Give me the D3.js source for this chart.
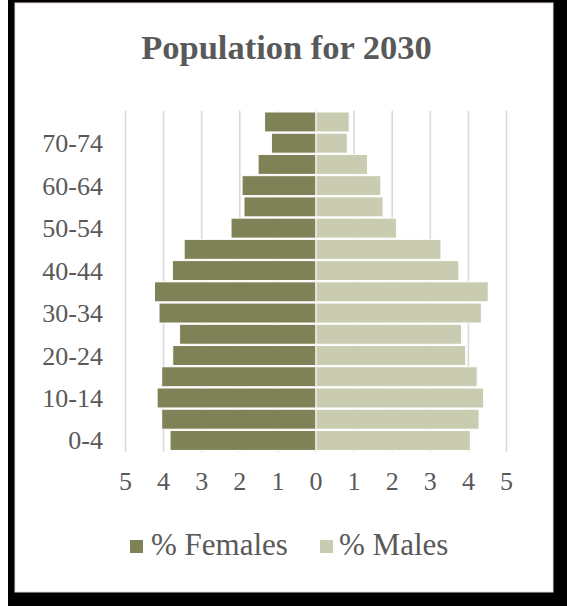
<!DOCTYPE html>
<html>
<head>
<meta charset="utf-8">
<script src="https://cdn.jsdelivr.net/npm/d3@7"></script>
</head>
<body style="margin:0; background:#fff;">
<svg id="chart" width="567" height="606"></svg>
<script>
// Age groups, youngest first (drawn bottom to top)
const ageGroups = ["0-4", "5-9", "10-14", "15-19", "20-24", "25-29", "30-34", "35-39",
                   "40-44", "45-49", "50-54", "55-59", "60-64", "65-69", "70-74", "75-79"];
// Share of population (%) per age group
const femalesPct = [3.83, 4.05, 4.17, 4.05, 3.76, 3.58, 4.12, 4.24,
                    3.77, 3.46, 2.23, 1.89, 1.94, 1.52, 1.17, 1.35];
const malesPct   = [4.05, 4.28, 4.40, 4.23, 3.93, 3.82, 4.34, 4.52,
                    3.75, 3.28, 2.11, 1.76, 1.70, 1.35, 0.82, 0.87];
// Axis labels
const xTickValues = [-5, -4, -3, -2, -1, 0, 1, 2, 3, 4, 5];
const yTickLabels = ["0-4", "10-14", "20-24", "30-34", "40-44", "50-54", "60-64", "70-74"];
const seriesNames = ["% Females", "% Males"];
const titleText = "Population for 2030";

const colFemale = "#7f8256";
const colMale = "#c9ccb1";
const textCol = "#595959";
const FONT = '"Liberation Serif"';

const svg = d3.select("#chart");

// Frame
svg.append("rect").attr("x", 8).attr("y", 0).attr("width", 559).attr("height", 606).attr("fill", "#000");
svg.append("rect").attr("x", 15).attr("y", 3).attr("width", 538).attr("height", 589)
  .attr("fill", "#fff").attr("stroke", "#ecdcd4").attr("stroke-width", 1);

// Title
svg.append("text").attr("x", 286.5).attr("y", 59).attr("text-anchor", "middle")
  .attr("fill", textCol)
  .style("font-family", FONT)
  .style("font-size", "34.5px").style("font-weight", "bold")
  .text(titleText);

const plotTop = 110.7, plotBottom = 451.7;

const x = d3.scaleLinear().domain([-5, 5]).range([125.5, 506.5]);
const y = d3.scaleBand().domain(ageGroups.slice().reverse())
  .range([plotTop, plotBottom]).paddingInner(0.06).paddingOuter(0.06);

// Vertical gridlines
svg.append("g").selectAll("line").data(xTickValues).join("line")
  .attr("x1", d => x(d)).attr("x2", d => x(d))
  .attr("y1", plotTop).attr("y2", plotBottom)
  .attr("stroke", "#d9d9d9").attr("stroke-width", 1.6);

const rows = ageGroups.map((a, i) => ({ age: a, f: femalesPct[i], m: malesPct[i] }));

// Female bars (left)
svg.append("g").selectAll("rect").data(rows).join("rect")
  .attr("x", d => x(-d.f)).attr("width", d => x(0) - x(-d.f))
  .attr("y", d => y(d.age)).attr("height", y.bandwidth())
  .attr("fill", colFemale).attr("stroke", "#fff").attr("stroke-width", 1);

// Male bars (right)
svg.append("g").selectAll("rect").data(rows).join("rect")
  .attr("x", x(0)).attr("width", d => x(d.m) - x(0))
  .attr("y", d => y(d.age)).attr("height", y.bandwidth())
  .attr("fill", colMale).attr("stroke", "#fff").attr("stroke-width", 1);

// X tick labels (absolute values on both sides)
svg.append("g").selectAll("text").data(xTickValues).join("text")
  .attr("x", d => x(d)).attr("y", 490).attr("text-anchor", "middle")
  .attr("fill", textCol).style("font-family", FONT).style("font-size", "26px")
  .text(d => Math.abs(d));

// Y tick labels (every other age group)
svg.append("g").selectAll("text").data(yTickLabels).join("text")
  .attr("x", 103).attr("y", d => y(d) + y.bandwidth() / 2 + 9)
  .attr("text-anchor", "end")
  .attr("fill", textCol).style("font-family", FONT).style("font-size", "26px")
  .text(d => d);

// Legend
const legendItems = [
  { name: seriesNames[0], color: colFemale, sx: 130, tx: 151 },
  { name: seriesNames[1], color: colMale, sx: 320, tx: 339 }
];
const legend = svg.append("g");
legendItems.forEach(it => {
  legend.append("rect").attr("x", it.sx).attr("y", 540).attr("width", 13).attr("height", 13).attr("fill", it.color);
  legend.append("text").attr("x", it.tx).attr("y", 555).attr("fill", textCol)
    .style("font-family", FONT).style("font-size", "31px").text(it.name);
});
</script>
</body>
</html>
